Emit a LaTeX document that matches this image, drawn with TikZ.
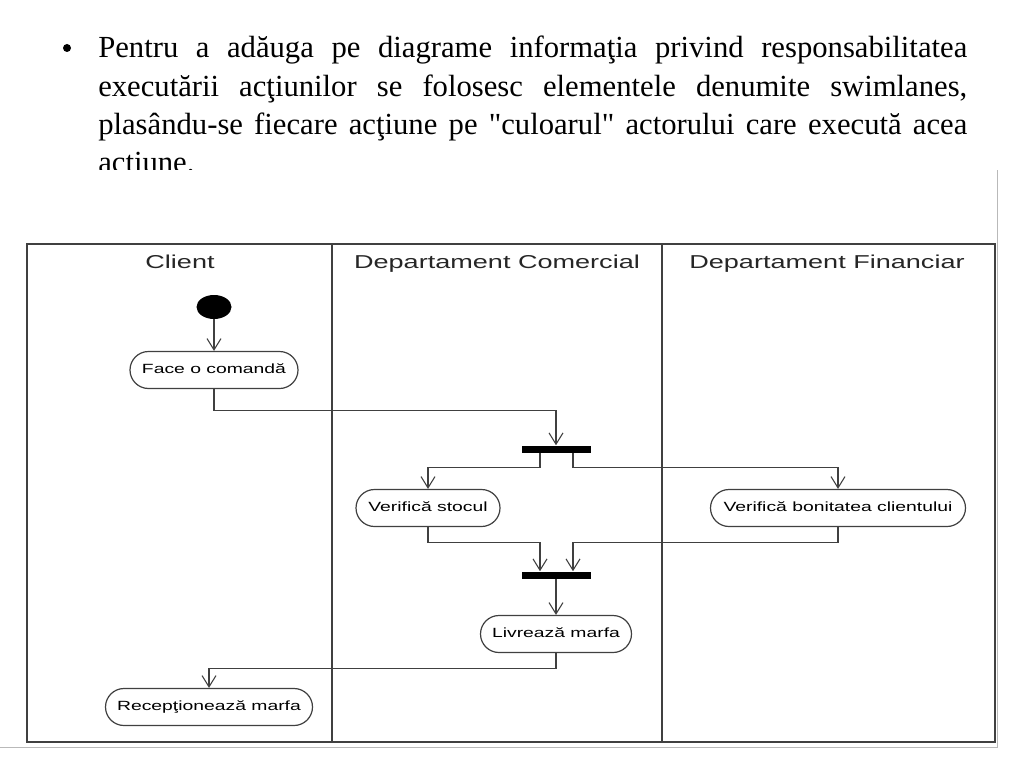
\documentclass[tikz,border=0pt]{standalone}
\usepackage{fontspec}
\setmainfont{Liberation Serif}
\newfontfamily\lanefont{Liberation Sans}[FakeStretch=1.45]
\usetikzlibrary{arrows.meta,shapes.geometric,shapes.misc,calc}
\definecolor{lanegray}{gray}{0.25}
\tikzset{
  action/.style={rounded rectangle, draw=lanegray, line width=0.9pt, font=\lanefont\fontsize{10}{12}\selectfont, text height=7.4pt, text depth=2pt, minimum height=27.75pt, inner sep=0pt},
  syncbar/.style={rectangle, fill=black, minimum width=51.75pt, minimum height=5.25pt, inner sep=0pt},
  flow/.style={draw=lanegray, line width=0.8pt, -{Straight Barb[length=8.5pt,width=10.5pt]}},
  lanehead/.style={anchor=base, font=\lanefont\fontsize{14}{16}\selectfont, text=black!85},
  textline/.style={anchor=base west, inner sep=0pt, font=\fontsize{23}{27}\selectfont}
}
\begin{document}
\begin{tikzpicture}[x=0.75pt,y=-0.75pt]
  \useasboundingbox (0,0) rectangle (1024,767);
  \node[circle, fill=black, minimum size=6pt, inner sep=0pt] (bullet) at (67,48){};
  \node[textline] (line1) at (98,58){\makebox[651.75pt][s]{Pentru a adăuga pe diagrame informaţia privind responsabilitatea}};
  \node[textline] (line2) at (98,96){\makebox[651.75pt][s]{executării acţiunilor se folosesc elementele denumite swimlanes,}};
  \node[textline] (line3) at (98,134){\makebox[651.75pt][s]{plasându-se fiecare acţiune pe \textquotedbl culoarul\textquotedbl{} actorului care execută acea}};
  \node[textline] (line4) at (98,172){acţiune.};
  \fill[white] (0,170) rectangle (997,747);
  \draw[gray!55] (997,170) -- (997,747) -- (0,747);
  \draw[lanegray, line width=1.1pt] (27,244) rectangle (995,742);
  \draw[lanegray, line width=1.1pt] (332,244) -- (332,742);
  \draw[lanegray, line width=1.1pt] (662,244) -- (662,742);
  \node[lanehead] (client) at (180,268){Client};
  \node[lanehead] (comercial) at (497,268){Departament Comercial};
  \node[lanehead] (financiar) at (827,268){Departament Financiar};
  \node[ellipse, fill=black, minimum width=26.25pt, minimum height=18pt, inner sep=0pt] (start) at (214,307){};
  \node[action, minimum width=126pt] (face) at (214,370){Face o comandă};
  \node[syncbar] (fork) at (556,449){};
  \node[action, minimum width=108pt] (stoc) at (428,508){Verifică stocul};
  \node[action, minimum width=191.25pt] (bonit) at (838,508){Verifică bonitatea clientului};
  \node[syncbar] (join) at (556,575){};
  \node[action, minimum width=113.25pt] (livr) at (556,634){Livrează marfa};
  \node[action, minimum width=155.25pt] (recep) at (209,707){Recepţionează marfa};
  \draw[flow] (start.south) -- (face.north);
  \draw[flow] (face.south) -- ++(0,21.5) -| (fork.north);
  \draw[flow] ($(fork.south)+(-16,0)$) -- ++(0,14.5) -| (stoc.north);
  \draw[flow] ($(fork.south)+(17,0)$) -- ++(0,14.5) -| (bonit.north);
  \draw[flow] (stoc.south) -- ++(0,15.5) -| ($(join.north)+(-16,0)$);
  \draw[flow] (bonit.south) -- ++(0,15.5) -| ($(join.north)+(17,0)$);
  \draw[flow] (join.south) -- (livr.north);
  \draw[flow] (livr.south) -- ++(0,15) -| (recep.north);
\end{tikzpicture}
\end{document}
